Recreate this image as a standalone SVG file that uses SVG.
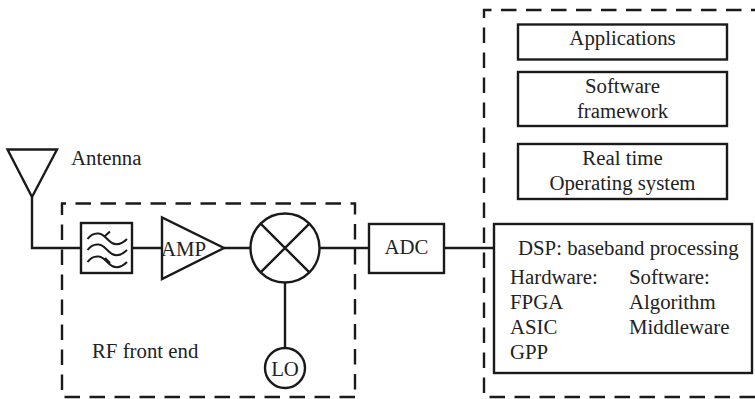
<svg xmlns="http://www.w3.org/2000/svg" width="755" height="399" viewBox="0 0 755 399">
<style>
.s{fill:none;stroke:#1a1a1a;stroke-width:2.4}
.b{fill:#fff;stroke:#1a1a1a;stroke-width:2.4}
.w{fill:none;stroke:#1a1a1a;stroke-width:2}
.d{fill:none;stroke:#1a1a1a;stroke-width:2.4;stroke-dasharray:15.5 9.5}
.t{font-family:"Liberation Serif","Times New Roman",serif;font-size:20.8px;fill:#222}
.m{text-anchor:middle}
</style>
<rect width="755" height="399" fill="#fff"/>
<g id="connectors">
<path class="s" d="M32 197V248H81M132 248H162M224 248H251M320 248H369M444 248H494M285 282V348"/>
</g>
<g id="rf-front-end"><path class="d" d="M355 397H62V203.500H355V397"/><text class="t" x="92" y="358">RF front end</text></g>
<g id="software-stack"><path class="d" d="M755 397H484V10H755"/></g>
<g id="antenna"><path class="s" d="M7.500 149.500H57L32 197Z"/><text class="t" x="71" y="165">Antenna</text></g>
<g id="filter"><rect class="s" x="81" y="223" width="51" height="50"/>
<path class="w" d="M87.500 239C91 234 95 233 99 233.500C104 234 107 240 112 243C117 245.500 122 244 127 239M87.500 250C91 245 95 244 99 244.500C104 245 107 251 112 254C117 256.500 122 255 127 250M87.500 262C91 257 95 256 99 256.500C104 257 107 263 112 266C117 268.500 122 267 127 262M105 236L110 231.500M105 258L110 263"/></g>
<g id="amp"><path class="s" d="M162 217.500V279L224 248Z"/><text class="t m" x="183.500" y="256">AMP</text></g>
<g id="mixer"><circle class="s" cx="285" cy="248" r="34.500"/><path class="s" d="M260.600 223.600L309.400 272.400M309.400 223.600L260.600 272.400"/></g>
<g id="lo"><circle class="s" cx="285" cy="368" r="20"/><text class="t m" x="285" y="375.500">LO</text></g>
<g id="adc"><rect class="s" x="369" y="224" width="75" height="49"/><text class="t m" x="406.500" y="254">ADC</text></g>
<g id="applications"><rect class="s" x="518" y="24.500" width="209" height="35"/><text class="t m" x="622.500" y="44.500">Applications</text></g>
<g id="framework"><rect class="s" x="518" y="72" width="209" height="54"/><text class="t m" x="622.500" y="93">Software</text><text class="t m" x="622.500" y="118">framework</text></g>
<g id="rtos"><rect class="s" x="518" y="144" width="209" height="55"/><text class="t m" x="622.500" y="165">Real time</text><text class="t m" x="622.500" y="190">Operating system</text></g>
<g id="dsp"><rect class="b" x="494" y="224" width="258" height="149"/>
<text class="t" x="518" y="255">DSP: baseband processing</text>
<text class="t" x="510" y="284">Hardware:</text><text class="t" x="510" y="309">FPGA</text><text class="t" x="510" y="334">ASIC</text><text class="t" x="510" y="359">GPP</text>
<text class="t" x="629" y="284">Software:</text><text class="t" x="629" y="309">Algorithm</text><text class="t" x="629" y="334">Middleware</text></g>
</svg>
